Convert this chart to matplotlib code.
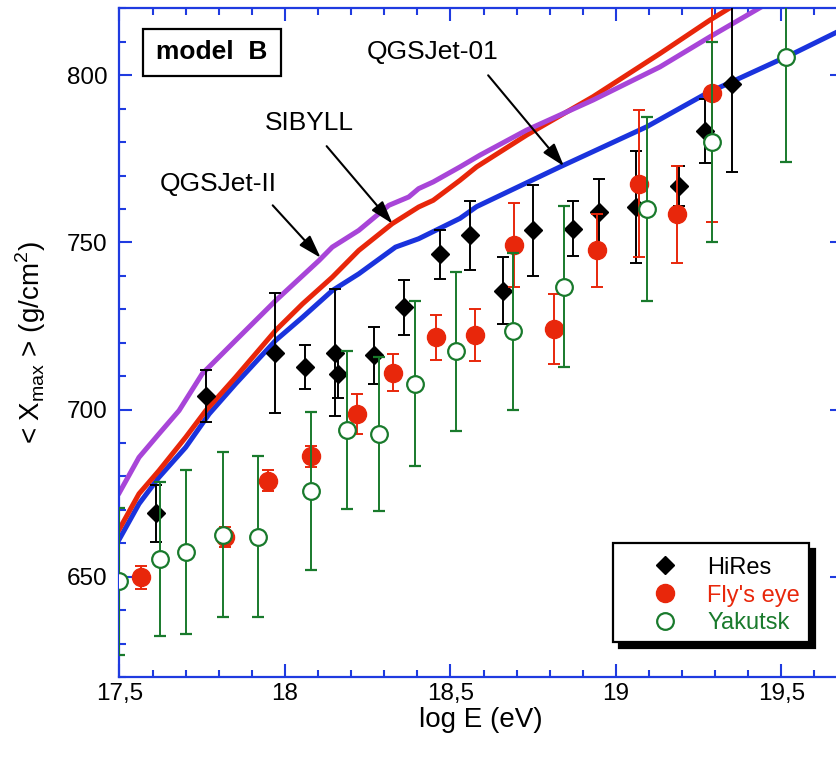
import numpy as np
import matplotlib
matplotlib.use("Agg")
import matplotlib.pyplot as plt
from matplotlib.lines import Line2D
from matplotlib.patches import Rectangle
from matplotlib.ticker import MultipleLocator, FuncFormatter

plt.rcParams['font.family'] = ['Liberation Sans', 'DejaVu Sans']
plt.rcParams['mathtext.fontset'] = 'custom'
plt.rcParams['mathtext.rm'] = 'Liberation Sans'

# model curves
qgs01_x = [17.5, 17.559, 17.619, 17.7, 17.771, 17.851, 17.972, 18.053, 18.143, 18.223,
           18.334, 18.404, 18.529, 18.579, 18.831, 19.093, 19.274, 19.536, 19.69]
qgs01_y = [661.3, 671.8, 679.7, 688.7, 698.7, 707.7, 720.7, 727.6, 735.6, 740.6,
           748.6, 751.1, 757.2, 760.7, 772.6, 784.6, 794.6, 806.5, 814]
sib_x = [17.5, 17.559, 17.619, 17.7, 17.761, 17.851, 17.972, 18.053, 18.143, 18.223,
         18.324, 18.404, 18.448, 18.529, 18.579, 18.730, 18.931, 19.133, 19.284, 19.35]
sib_y = [664.3, 674.8, 681.7, 691.7, 699.7, 709.7, 723.7, 731.6, 739.6, 747.6,
         755.6, 760.6, 762.6, 768.6, 772.6, 782.1, 793.6, 806.5, 816.5, 820.5]
qgs2_x = [17.5, 17.559, 17.619, 17.68, 17.75, 17.851, 17.972, 18.103, 18.143, 18.223,
          18.314, 18.374, 18.404, 18.448, 18.529, 18.589, 18.730, 18.931, 19.133, 19.284, 19.435]
qgs2_y = [675.2, 685.7, 692.7, 699.7, 710.7, 720.7, 732.6, 744.6, 748.6, 753.6,
          761.1, 763.6, 766.1, 768.1, 772.6, 776.1, 783.6, 792.6, 802.5, 811.5, 820.2]

# HiRes
hires_x = [17.61, 17.76, 17.97, 18.06, 18.15, 18.16, 18.27, 18.36, 18.47, 18.56,
           18.66, 18.75, 18.87, 18.95, 19.06, 19.19, 19.27, 19.35]
hires_y = [669, 704, 717, 712.7, 717, 710.5, 716.2, 730.6, 746.4, 752.1,
           735.6, 753.6, 754.1, 759.1, 760.6, 766.9, 783.3, 797.5]
hires_e = [8.5, 7.7, 18, 6.5, 19, 7, 8.5, 8.2, 7.2, 10.2,
           10, 13.7, 8.2, 10, 16.7, 6, 9.5, 26.5]

# Fly's eye
fly_x = [17.565, 17.819, 17.95, 18.078, 18.217, 18.327, 18.456, 18.574, 18.692,
         18.814, 18.942, 19.07, 19.185, 19.289]
fly_y = [649.8, 661.8, 678.7, 686, 698.7, 711, 721.6, 722.4, 749.3,
         724.2, 747.6, 767.6, 758.4, 794.6]
fly_e = [3.5, 3, 3.2, 3.2, 6, 5.5, 6.7, 7.8, 12.5,
         10.5, 11, 22, 14.5, 38.5]

# Yakutsk
yak_x = [17.5, 17.622, 17.701, 17.812, 17.919, 18.078, 18.188, 18.285, 18.393,
         18.517, 18.69, 18.844, 19.095, 19.289, 19.514]
yak_y = [648.6, 655.3, 657.3, 662.5, 662, 675.7, 693.9, 692.7, 707.7,
         717.5, 723.4, 736.8, 760.1, 780, 805.5]
yak_e = [22, 23, 24.5, 24.7, 24, 23.7, 23.6, 23, 24.7,
         23.8, 23.5, 24, 27.5, 30, 31.5]

xticks = [17.5, 18, 18.5, 19, 19.5]
yticks = [650, 700, 750, 800]

axis_blue = '#1f3be0'
c_qgs01 = '#1a33dd'
c_sib = '#e8260a'
c_qgs2 = '#a845d8'
c_red = '#e8270b'
c_green = '#197a2c'

fig = plt.figure(figsize=(8.36, 7.61), dpi=100)
ax = fig.add_axes([0.1429, 0.1104, 0.8654, 0.8785])

ax.plot(qgs01_x, qgs01_y, color=c_qgs01, lw=3.6, zorder=2, solid_joinstyle='round')
ax.plot(sib_x, sib_y, color=c_sib, lw=3.6, zorder=2, solid_joinstyle='round')
ax.plot(qgs2_x, qgs2_y, color=c_qgs2, lw=3.6, zorder=2, solid_joinstyle='round')

ax.errorbar(hires_x, hires_y, yerr=hires_e, fmt='D', color='k', ms=9.2,
            elinewidth=1.4, capsize=4, capthick=1.4, zorder=3)
ax.errorbar(fly_x, fly_y, yerr=fly_e, fmt='o', color=c_red, ms=13,
            elinewidth=1.4, capsize=4, capthick=1.4, zorder=4)
ax.errorbar(yak_x, yak_y, yerr=yak_e, fmt='o', color=c_green, ms=12,
            mfc='white', mew=1.6, elinewidth=1.4, capsize=4, capthick=1.4, zorder=5)

ax.set_xlim(17.5, 19.686)
ax.set_ylim(620, 820)
ax.set_xticks(xticks)
ax.set_yticks(yticks)
ax.xaxis.set_minor_locator(MultipleLocator(0.1))
ax.yaxis.set_minor_locator(MultipleLocator(10))
ax.xaxis.set_major_formatter(FuncFormatter(lambda v, p: ('%g' % v).replace('.', ',')))

ax.tick_params(which='both', direction='in', top=True, right=True,
               color=axis_blue, width=1.5, labelsize=17.5)
ax.tick_params(which='major', length=9.5)
ax.tick_params(which='minor', length=5)
ax.tick_params(axis='x', pad=4)
ax.tick_params(axis='y', pad=8.5)
for s in ax.spines.values():
    s.set_color(axis_blue)
    s.set_linewidth(1.6)

ax.set_xlabel('log E (eV)', fontsize=20)
ax.xaxis.set_label_coords(0.5, -0.045)
ax.xaxis.label.set_va('top')
ax.set_ylabel(r'< X$_{\mathrm{max}}$ > (g/cm$^{2}$)', fontsize=20)
ax.yaxis.set_label_coords(-0.099, 0.5)

# model B box
ax.add_patch(Rectangle((0.0321, 0.8995), 0.1911, 0.0698, transform=ax.transAxes,
                       fill=False, ec='k', lw=1.6, zorder=6))
ax.text(0.1279, 0.9342, 'model  B', transform=ax.transAxes, ha='center', va='center',
        fontsize=19, fontweight='bold', zorder=6)

# curve labels with arrows
arr = dict(arrowstyle='-|>,head_length=0.7,head_width=0.22', color='k', lw=1.5,
           mutation_scale=20, shrinkA=0, shrinkB=0)
ax.annotate('', xy=(18.843, 772.8), xytext=(18.614, 800), arrowprops=arr, zorder=6)
ax.text(18.447, 806.9, 'QGSJet-01', ha='center', va='center', fontsize=19)
ax.annotate('', xy=(18.325, 755.6), xytext=(18.126, 778.8), arrowprops=arr, zorder=6)
ax.text(18.074, 785.6, 'SIBYLL', ha='center', va='center', fontsize=19)
ax.annotate('', xy=(18.108, 745.4), xytext=(17.963, 761.1), arrowprops=arr, zorder=6)
ax.text(17.797, 767.6, 'QGSJet-II', ha='center', va='center', fontsize=19)

# legend box with shadow
bx0, by0, bw, bh = 0.6817, 0.0528, 0.2717, 0.1481
ax.add_patch(Rectangle((bx0 + 0.0083, by0 - 0.009), bw, bh, transform=ax.transAxes,
                       fc='k', ec='k', lw=1.6, zorder=7))
ax.add_patch(Rectangle((bx0, by0), bw, bh, transform=ax.transAxes,
                       fc='white', ec='k', lw=1.6, zorder=8))
handles = [Line2D([], [], marker='D', color='k', ls='none', ms=9.2),
           Line2D([], [], marker='o', color=c_red, ls='none', ms=13),
           Line2D([], [], marker='o', color=c_green, mfc='white', mew=1.6, ls='none', ms=12)]
leg = ax.legend(handles, ['HiRes', "Fly's eye", 'Yakutsk'], loc='upper left',
                bbox_to_anchor=(0.7375, 0.18), frameon=False, fontsize=17,
                handlelength=1.0, handletextpad=1.3, labelspacing=0.25,
                borderpad=0, borderaxespad=0)
leg.set_zorder(9)
for t, c in zip(leg.get_texts(), ['k', c_red, c_green]):
    t.set_color(c)

fig.savefig('out.png', dpi=100)
